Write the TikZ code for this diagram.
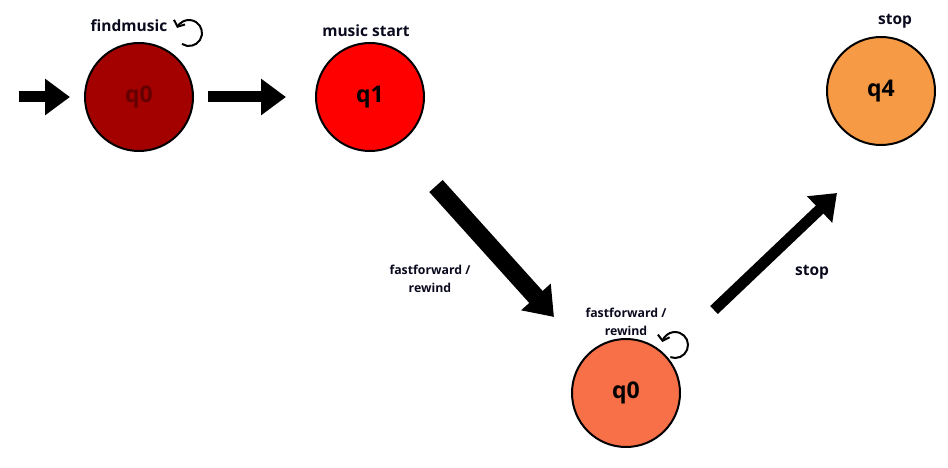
\documentclass[tikz,border=0pt]{standalone}
\usepackage{fontspec}
\setmainfont{Open Sans}
\usetikzlibrary{arrows.meta}
\definecolor{cq0}{RGB}{163,0,0}
\definecolor{cq0txt}{RGB}{100,0,0}
\definecolor{cq1}{RGB}{255,0,0}
\definecolor{cq4}{RGB}{247,154,69}
\definecolor{cq0b}{RGB}{247,112,72}
\definecolor{ink}{RGB}{10,10,30}
\begin{document}
\begin{tikzpicture}[x=1pt,y=1pt,
  state/.style={circle,draw=black,line width=2pt,minimum size=108pt,inner sep=0pt,font=\fontsize{23}{26}\selectfont\bfseries},
  lbl/.style={font=\fontsize{15.5}{18}\selectfont\bfseries,text=ink,inner sep=0pt,align=center},
  slbl/.style={font=\fontsize{12.3}{18.5}\selectfont\bfseries,text=ink,inner sep=0pt,align=center},
  blockarrow/.style={line width=11pt,-{Triangle[width=35pt,length=25pt]}},
  bigarrow/.style={line width=18pt,-{Triangle[width=38pt,length=27pt]}},
  loopy/.style={line width=2pt,-{Straight Barb[length=5pt,width=12pt]}}
]
\useasboundingbox (0,0) rectangle (948,-468);
\node[state,fill=cq0,text=cq0txt] (q0) at (139,-97) {q0};
\node[state,fill=cq1] (q1) at (370,-97) {q1};
\node[state,fill=cq4] (q4) at (881,-91) {q4};
\node[state,fill=cq0b] (q0b) at (626,-393) {q0};
\coordinate (init) at (19,-97);
\draw[blockarrow,shorten >=14pt] (init) -- (q0);
\draw[blockarrow,shorten <=14pt,shorten >=29pt] (q0) -- (q1);
\draw[bigarrow] ([shift={(66,-89)}]q1.center) -- ([shift={(-72,76)}]q0b.center);
\draw[line width=11pt,-{Triangle[width=35pt,length=24pt]}] ([shift={(88,83)}]q0b.center) -- ([shift={(-44,-102)}]q4.center);
\draw[loopy] ([shift={(50,64)}]q0.center) ++(237:13pt) arc[start angle=237,end angle=517,radius=13pt];
\draw[loopy] ([shift={(49,48)}]q0b.center) ++(249:13pt) arc[start angle=249,end angle=527,radius=13pt];
\node[lbl] (l1) at (129,-26) {findmusic};
\node[lbl] (l2) at (366,-31) {music start};
\node[lbl] (l3) at (895,-21) {stop};
\node[slbl] (l4) at (430,-279) {fastforward /\\rewind};
\node[lbl] (l5) at (812,-272) {stop};
\node[slbl] (l6) at (626,-322) {fastforward /\\rewind};
\end{tikzpicture}
\end{document}
